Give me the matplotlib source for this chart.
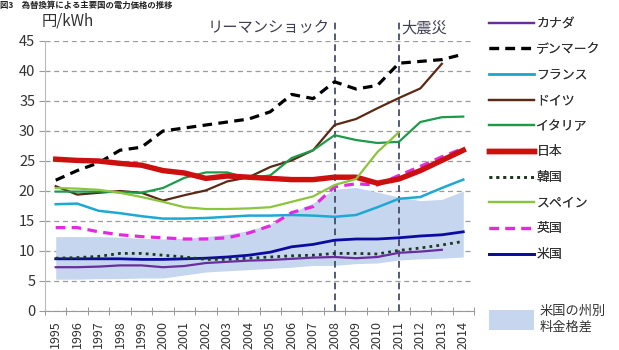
import numpy as np
import matplotlib
matplotlib.use("Agg")
import matplotlib.pyplot as plt
from matplotlib.patches import Patch

plt.rcParams['font.family'] = ['Noto Sans CJK JP', 'DejaVu Sans']

# 年次（1995〜2014）
years = [str(y) for y in range(1995, 2015)]
nan = np.nan

canada = [7.3, 7.3, 7.4, 7.6, 7.6, 7.3, 7.5, 8.0, 8.2, 8.4, 8.5, 8.7, 8.9, 9.0, 8.8, 9.0, 9.7, 9.9, 10.2, nan]
denmark = [21.8, 23.4, 24.7, 26.8, 27.3, 30.0, 30.5, 31.0, 31.5, 32.0, 33.2, 36.1, 35.4, 38.2, 37.0, 37.6, 41.3, 41.6, 41.9, 42.8]
france = [17.8, 17.9, 16.7, 16.3, 15.8, 15.4, 15.4, 15.5, 15.7, 15.9, 15.9, 16.0, 15.9, 15.7, 16.0, 17.3, 18.7, 19.0, 20.5, 21.9]
germany = [20.8, 19.4, 19.7, 20.0, 19.7, 18.4, 19.3, 20.1, 21.6, 22.3, 24.0, 25.1, 26.8, 31.0, 32.0, 33.8, 35.5, 37.1, 41.2, nan]
italy = [19.9, 19.9, 19.9, 19.8, 19.7, 20.5, 22.2, 23.1, 23.1, 22.1, 22.6, 25.5, 26.8, 29.3, 28.5, 28.0, 28.2, 31.5, 32.3, 32.4]
japan = [25.3, 25.1, 25.0, 24.6, 24.3, 23.4, 23.0, 22.1, 22.5, 22.3, 22.1, 21.9, 21.9, 22.3, 22.3, 21.3, 22.0, 23.4, 25.1, 26.8]
korea = [8.8, 8.9, 9.1, 9.6, 9.6, 9.3, 9.0, 8.6, 8.6, 8.8, 9.0, 9.2, 9.3, 9.6, 9.6, 9.5, 10.1, 10.5, 11.0, 11.6]
spain = [20.5, 20.4, 20.2, 19.7, 19.0, 18.2, 17.3, 17.0, 17.0, 17.1, 17.3, 18.2, 19.1, 21.0, 22.0, 26.5, 29.8, nan, nan, nan]
uk = [13.9, 13.9, 13.2, 12.7, 12.4, 12.2, 12.0, 12.0, 12.2, 13.0, 14.2, 16.4, 17.4, 20.7, 21.2, 21.0, 22.6, 24.1, 25.7, 27.1]
usa = [8.7, 8.7, 8.7, 8.7, 8.6, 8.6, 8.7, 8.8, 9.0, 9.3, 9.8, 10.7, 11.1, 11.8, 12.0, 12.0, 12.2, 12.5, 12.7, 13.2]
us_low = [5.3, 5.3, 5.4, 5.4, 5.5, 5.5, 6.0, 6.5, 6.7, 6.9, 7.1, 7.3, 7.6, 7.6, 7.9, 8.0, 8.5, 8.7, 8.8, 9.0]
us_high = [12.4, 12.4, 12.4, 12.3, 12.1, 12.0, 12.1, 12.4, 12.8, 13.4, 14.5, 16.4, 18.0, 20.3, 20.6, 19.8, 19.0, 18.4, 18.6, 20.0]

events = {'2008': 'リーマンショック', '2011': '大震災'}

x = np.arange(len(years))

fig = plt.figure(figsize=(6.19, 3.5), dpi=100)
ax = fig.add_axes([45 / 619, 39 / 350, 429 / 619, 270 / 350])

ax.fill_between(x, us_low, us_high, color='#C6D6EE', lw=0, zorder=1)

series = [
    ('カナダ', canada, dict(color='#6A2C9E', lw=1.6)),
    ('デンマーク', denmark, dict(color='black', lw=2.3, ls=(0, (3, 2)))),
    ('フランス', france, dict(color='#1EA8D6', lw=1.8)),
    ('ドイツ', germany, dict(color='#5A2A14', lw=1.6)),
    ('イタリア', italy, dict(color='#1E9A48', lw=1.6)),
    ('日本', japan, dict(color='#CC1010', lw=3.9)),
    ('韓国', korea, dict(color='#1B3A20', lw=2.0, ls=(0, (1, 1.5)))),
    ('スペイン', spain, dict(color='#8CC43E', lw=1.6)),
    ('英国', uk, dict(color='#E22BE0', lw=2.3, ls=(0, (3, 2)))),
    ('米国', usa, dict(color='#0B0B9E', lw=2.0)),
]
order = [5, 1, 3, 4, 7, 8, 2, 9, 6, 0]
handles = []
for i, (name, vals, style) in enumerate(series):
    ln, = ax.plot(x, vals, label=name, zorder=3 + order[i], **style)
    handles.append(ln)

ax.set_xlim(-0.5, len(years) - 0.5)
ax.set_ylim(0, 45)
ax.set_yticks(np.arange(0, 46, 5))
ax.yaxis.grid(True, color='#9A9A9A', ls=(0, (4, 3)), lw=0.9)
ax.set_axisbelow(True)
ax.tick_params(axis='y', length=4, color='#9A9A9A', labelsize=10.5, labelcolor='#333333', pad=3)

ax.set_xticks(x)
ax.set_xticklabels(years, rotation=90, fontsize=9, color='#333333')
ax.set_xticks(np.arange(-0.5, len(years), 1), minor=True)
ax.tick_params(axis='x', which='major', length=0, pad=7)
ax.tick_params(axis='x', which='minor', length=6, direction='inout', color='#888888')

for s in ['top', 'right']:
    ax.spines[s].set_visible(False)
ax.spines['left'].set_color('#BBBBBB')
ax.spines['bottom'].set_color('#999999')

# 出来事の縦線と注記
for yr in events:
    ax.axvline(years.index(yr), ymin=0, ymax=1.08, color='#3A3F5C', lw=1.2,
               ls=(0, (4, 2.5)), clip_on=False, zorder=2)
ax.text(years.index('2008') - 0.25, 47.2, events['2008'], ha='right', va='center',
        fontsize=11, color='#404055')
ax.text(years.index('2011') + 0.1, 47.2, events['2011'], ha='left', va='center',
        fontsize=11, color='#404055')

ax.text(-0.65, 48.3, '円/kWh', ha='left', va='center', fontsize=11, color='#333333')

fig.text(0.0, 0.999, '図3　為替換算による主要国の電力価格の推移', ha='left', va='top',
         fontsize=6, fontweight='bold', color='#222222')

leg = fig.legend(handles=handles, loc='upper left', bbox_to_anchor=(484 / 619, 1 - 12 / 350),
                 frameon=False, fontsize=9.3, handlelength=3.5, labelspacing=0.98,
                 handletextpad=0.15, borderaxespad=0)
for t in leg.get_texts():
    t.set_color('#333333')
fig.add_artist(leg)
leg2 = fig.legend(handles=[Patch(facecolor='#C6D6EE', edgecolor='none')],
                  labels=['米国の州別\n料金格差'], loc='upper left',
                  bbox_to_anchor=(484 / 619, 1 - 300 / 350), frameon=False, fontsize=9.5,
                  handlelength=3.4, handleheight=1.9, handletextpad=0.4, borderaxespad=0)
for t in leg2.get_texts():
    t.set_color('#333333')

fig.savefig('out.png', dpi=100)
